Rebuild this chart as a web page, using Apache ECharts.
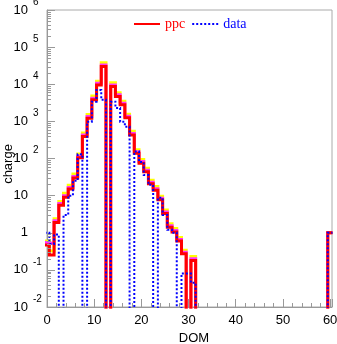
<!DOCTYPE html>
<html><head><meta charset="utf-8">
<script src="https://cdn.jsdelivr.net/npm/echarts@6/dist/echarts.min.js"></script>
<style>html,body{margin:0;padding:0;background:#fff}#c{width:337px;height:344px}</style>
</head><body><div id="c"></div>
<script>
// DOM index of each bin (0..60)
const doms = [0,1,2,3,4,5,6,7,8,9,10,11,12,13,14,15,16,17,18,19,20,21,22,23,24,25,26,27,28,29,30,
  31,32,33,34,35,36,37,38,39,40,41,42,43,44,45,46,47,48,49,50,51,52,53,54,55,56,57,58,59,60];
// ppc (red)
const ppc = [0.47,0.25,1.9,5.5,9,15,30,105,390,1220,3800,9600,30000,0,8700,4700,2800,1250,430,138,75,44,21,14,7.7,3.3,1.4,1.05,0.6,0.27,0,
  0.18,0,0,0,0,0,0,0,0,0,0,0,0,0,0,0,0,0,0,0,0,0,0,0,0,0,0,0,0,1];
// upper ppc envelope (yellow)
const ppcHigh = [0.6,0.32,2.4,6.9,11.5,19,38,132,490,1530,4800,12000,38000,0,11000,5900,3500,1560,540,172,94,55,26,17.5,9.6,4.1,1.75,1.3,0.75,0.34,0,
  0.23,0,0,0,0,0,0,0,0,0,0,0,0,0,0,0,0,0,0,0,0,0,0,0,0,0,0,0,0,1];
// middle ppc envelope (magenta)
const ppcMid = [0.55,0.5,2.1,6.1,10,16.5,33,116,430,1350,4200,10600,33000,0,9600,5200,3100,1380,475,152,83,48,23,15.4,8.5,3.6,1.55,1.15,0.66,0.3,0,
  0.2,0,0,0,0,0,0,0,0,0,0,0,0,0,0,0,0,0,0,0,0,0,0,0,0,0,0,0,0,1];
// data (blue dotted)
const data = [1.0,0.5,0.9,0,3,10,25,130,0,980,3400,7000,3800,0,3400,2300,980,720,0,155,80,36,19.5,0,8.7,3.0,1.2,1.0,0,0.08,0.08,
  0.045,0,0,0,0,0,0,0,0,0,0,0,0,0,0,0,0,0,0,0,0,0,0,0,0,0,0,0,0,1];
// y minor tick values
const minorY = [];
for (let e = -2; e <= 5; e++) for (let k = 2; k <= 9; k++) minorY.push(k * Math.pow(10, e));

const FLOOR = 1e-5;
function steps(vals) {
  const pts = [];
  vals.forEach((v, i) => {
    const y = v > 0 ? v : FLOOR;
    pts.push([doms[i] - 0.5, y], [doms[i] + 0.5, y]);
  });
  return pts;
}
const axisGray = '#999';
const chart = echarts.init(document.getElementById('c'), null, {renderer: 'canvas'});
const lineSer = (name, vals, color, width, z, dash) => ({
  name, type: 'line', data: steps(vals), showSymbol: false, symbol: 'none', clip: true, z,
  lineStyle: {color, width, type: dash || 'solid', cap: 'butt', join: 'miter'},
  itemStyle: {color}, animation: false
});
chart.setOption({
  animation: false,
  grid: {left: 47, right: 5, top: 10, bottom: 37, show: true, borderColor: '#aaa', borderWidth: 1,
    containLabel: false, outerBoundsMode: 'none'},
  legend: {
    data: [{name: 'ppc', textStyle: {color: '#f00'}}, {name: 'data', textStyle: {color: '#00f'}}],
    left: 128, top: 12, itemWidth: 26, itemHeight: 12, itemGap: 6,
    itemStyle: {opacity: 0},
    textStyle: {fontFamily: 'Liberation Serif', fontSize: 14}
  },
  graphic: [{
    type: 'text', x: 8, y: 164, rotation: Math.PI / 2, silent: true,
    style: {text: 'charge', textAlign: 'center', textVerticalAlign: 'middle',
      fontFamily: 'Liberation Sans', fontSize: 13, fill: '#000'}
  }],
  xAxis: {
    type: 'value', min: 0, max: 60.4, interval: 10,
    name: 'DOM', nameLocation: 'middle', nameGap: 23,
    nameTextStyle: {fontFamily: 'Liberation Sans', fontSize: 13, color: '#000', padding: [0, 0, 0, 9]},
    axisLine: {show: true, lineStyle: {color: axisGray}},
    axisTick: {show: true, inside: true, length: 8, lineStyle: {color: axisGray}},
    minorTick: {show: true, splitNumber: 5, length: 4, lineStyle: {color: axisGray}},
    splitLine: {show: false},
    axisLabel: {fontFamily: 'Liberation Sans', fontSize: 13, color: '#000', margin: 7,
      formatter: v => (Math.abs(v % 10) < 1e-9 ? String(v) : '')}
  },
  yAxis: [{
    type: 'log', logBase: 10, min: 0.01, max: 1e6, splitNumber: 8,
    axisLine: {show: true, lineStyle: {color: axisGray}},
    axisTick: {show: true, inside: true, length: 8, lineStyle: {color: axisGray}},
    splitLine: {show: false},
    axisLabel: {fontFamily: 'Liberation Sans', fontSize: 13, color: '#000', margin: 19,
      formatter: v => { const e = Math.round(Math.log10(v)); return e === 0 ? '1' : '10'; }}
  }, {
    type: 'log', logBase: 10, min: 0.01, max: 1e6, splitNumber: 8, position: 'left',
    axisLine: {show: false}, axisTick: {show: false}, splitLine: {show: false},
    axisLabel: {fontFamily: 'Liberation Sans', fontSize: 10, color: '#000', margin: 14, align: 'left',
      verticalAlign: 'bottom', padding: [0, 0, 3, 0],
      formatter: v => { const e = Math.round(Math.log10(v)); return (e === 0 || e === 1) ? '' : String(e); }}
  }],
  series: [
    lineSer('ppcHigh', ppcHigh, '#ffff00', 3, 2),
    lineSer('ppcMid', ppcMid, '#ff33ff', 3, 3),
    lineSer('ppc', ppc, '#ff0000', 3, 4),
    lineSer('data', data, '#0000ff', 2, 5, [2, 2]),
    {
      type: 'custom', z: 6, silent: true, animation: false,
      data: minorY.map(v => [0, v]), encode: {x: 0, y: 1},
      renderItem: (params, api) => {
        const p = api.coord([api.value(0), api.value(1)]);
        const y = Math.round(p[1]) + 0.5;
        return {type: 'line', shape: {x1: p[0], y1: y, x2: p[0] + 4, y2: y},
          style: {stroke: axisGray, lineWidth: 1}};
      }
    }
  ]
});
</script></body></html>
